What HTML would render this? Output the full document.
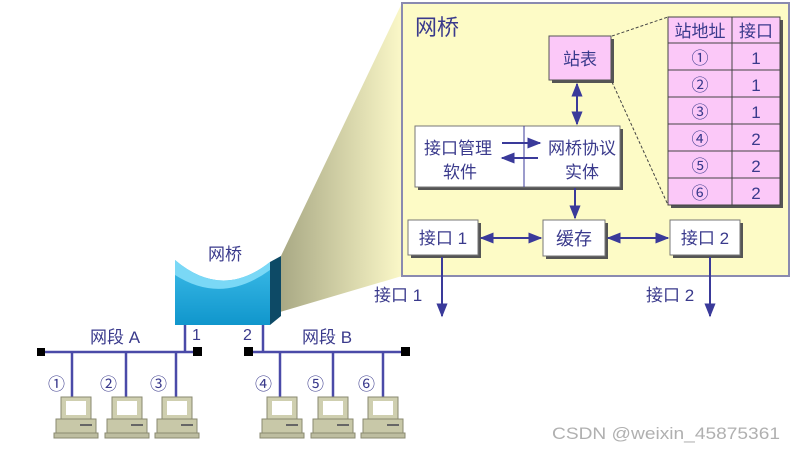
<!DOCTYPE html>
<html><head><meta charset="utf-8"><style>
body{margin:0;width:799px;height:451px;background:#fff;overflow:hidden;font-family:"Liberation Sans","Noto Sans CJK SC",sans-serif}
svg text{font-family:"Liberation Sans","Noto Sans CJK SC",sans-serif;fill:#3a3a8c}
</style></head><body>
<svg width="799" height="451" viewBox="0 0 799 451">
<defs>
<linearGradient id="fn" x1="0" y1="0" x2="1" y2="0">
<stop offset="0" stop-color="#a8a884"/><stop offset="1" stop-color="#fbf8c8"/></linearGradient>
<linearGradient id="br" x1="0" y1="0" x2="0" y2="1">
<stop offset="0" stop-color="#3cbbe8"/><stop offset="1" stop-color="#1096cc"/></linearGradient>
<marker id="a" viewBox="0 0 10 10" refX="9" refY="5" markerWidth="7" markerHeight="7" orient="auto-start-reverse"><path d="M0,1 L10,5 L0,9 z" fill="#3a3a9a"/></marker>
<g id="pc">
<rect x="5" y="0" width="30" height="22" fill="#cfcfb0" stroke="#8a8a70"/>
<rect x="10" y="4" width="20" height="14" fill="#fff"/>
<rect x="0" y="22" width="40" height="14" fill="#c8c8a8" stroke="#8a8a70"/>
<rect x="24" y="27" width="12" height="2" fill="#666"/>
<rect x="-2" y="36" width="44" height="5" fill="#bdbda0" stroke="#8a8a70"/>
</g>
</defs>
<polygon points="280,258 402,3 402,276 280,312" fill="url(#fn)"/>
<rect x="402" y="3" width="387" height="273" fill="#fdfbc6" stroke="#8a8ab0" stroke-width="2"/>
<text x="415" y="35" font-size="22">网桥</text>
<rect x="552" y="39" width="62" height="44" fill="#555"/>
<rect x="549" y="36" width="62" height="44" fill="#fbc8f8" stroke="#555"/>
<text x="580" y="65" font-size="17" text-anchor="middle">站表</text>
<line x1="612" y1="36" x2="668" y2="17" stroke="#444" stroke-dasharray="3,2"/>
<line x1="612" y1="82" x2="668" y2="205" stroke="#444" stroke-dasharray="3,2"/>
<rect x="671" y="20" width="112" height="188" fill="#555"/>
<rect x="668" y="17" width="112" height="188" fill="#fbc8f8" stroke="#444"/>
<g stroke="#444"><line x1="732" y1="17" x2="732" y2="205"/>
<line x1="668" y1="43" x2="780" y2="43"/><line x1="668" y1="70" x2="780" y2="70"/><line x1="668" y1="97" x2="780" y2="97"/><line x1="668" y1="124" x2="780" y2="124"/><line x1="668" y1="151" x2="780" y2="151"/><line x1="668" y1="178" x2="780" y2="178"/></g>
<g font-size="17" text-anchor="middle">
<text x="700" y="37">站地址</text><text x="756" y="37">接口</text>
<text x="700" y="64">①</text><text x="756" y="64">1</text>
<text x="700" y="91">②</text><text x="756" y="91">1</text>
<text x="700" y="118">③</text><text x="756" y="118">1</text>
<text x="700" y="145">④</text><text x="756" y="145">2</text>
<text x="700" y="172">⑤</text><text x="756" y="172">2</text>
<text x="700" y="199">⑥</text><text x="756" y="199">2</text>
</g>
<rect x="418" y="129" width="205" height="61" fill="#555"/>
<rect x="415" y="126" width="205" height="61" fill="#fff" stroke="#777"/>
<line x1="524" y1="126" x2="524" y2="187" stroke="#3a3a9a"/>
<g font-size="17" text-anchor="middle"><text x="458" y="154">接口管理</text><text x="460" y="178">软件</text>
<text x="582" y="154">网桥协议</text><text x="582" y="178">实体</text></g>
<line x1="502" y1="143" x2="540" y2="143" stroke="#3a3a9a" stroke-width="2" marker-end="url(#a)"/>
<line x1="538" y1="158" x2="502" y2="158" stroke="#3a3a9a" stroke-width="2" marker-end="url(#a)"/>
<rect x="411" y="223" width="70" height="35" fill="#555"/>
<rect x="408" y="220" width="70" height="35" fill="#fff" stroke="#777"/>
<text x="443" y="244" font-size="17" text-anchor="middle">接口 1</text>
<rect x="546" y="223" width="62" height="36" fill="#555"/>
<rect x="543" y="220" width="62" height="36" fill="#fff" stroke="#777"/>
<text x="574" y="245" font-size="18" text-anchor="middle">缓存</text>
<rect x="673" y="223" width="70" height="35" fill="#555"/>
<rect x="670" y="220" width="70" height="35" fill="#fff" stroke="#777"/>
<text x="705" y="244" font-size="17" text-anchor="middle">接口 2</text>
<g stroke="#3a3a9a" stroke-width="2" fill="none">
<line x1="577" y1="84" x2="577" y2="124" marker-start="url(#a)" marker-end="url(#a)"/>
<line x1="575" y1="188" x2="575" y2="218" marker-end="url(#a)"/>
<line x1="481" y1="238" x2="541" y2="238" marker-start="url(#a)" marker-end="url(#a)"/>
<line x1="608" y1="238" x2="668" y2="238" marker-start="url(#a)" marker-end="url(#a)"/>
<line x1="442" y1="257" x2="442" y2="316" marker-end="url(#a)"/>
<line x1="710" y1="257" x2="710" y2="316" marker-end="url(#a)"/>
</g>
<text x="374" y="301" font-size="17">接口 1</text>
<text x="646" y="301" font-size="17">接口 2</text>
<path d="M175,260 Q222,300 270,262 L270,325 L175,325 Z" fill="url(#br)"/>
<path d="M175,260 Q222,300 270,262 L270,270 Q222,305 175,275 Z" fill="#7ad8f6"/>
<polygon points="270,262 281,256 281,316 270,325" fill="#0d4a66"/>
<text x="208" y="260" font-size="17">网桥</text>
<g stroke="#4a4aa8" stroke-width="2.5">
<line x1="40" y1="352" x2="197" y2="352"/><line x1="185" y1="325" x2="185" y2="352"/>
<line x1="72" y1="352" x2="72" y2="397"/><line x1="126" y1="352" x2="126" y2="397"/><line x1="176" y1="352" x2="176" y2="397"/>
<line x1="247" y1="352" x2="405" y2="352"/><line x1="263" y1="325" x2="263" y2="352"/>
<line x1="280" y1="352" x2="280" y2="397"/><line x1="333" y1="352" x2="333" y2="397"/><line x1="383" y1="352" x2="383" y2="397"/>
</g>
<rect x="37" y="348" width="8" height="8" fill="#000"/><rect x="193" y="347" width="9" height="9" fill="#000"/>
<rect x="244" y="347" width="9" height="9" fill="#000"/><rect x="401" y="347" width="9" height="9" fill="#000"/>
<text x="90" y="343" font-size="17">网段 A</text>
<text x="302" y="343" font-size="17">网段 B</text>
<text x="192" y="340" font-size="16">1</text>
<text x="243" y="340" font-size="16">2</text>
<g font-size="17"><text x="48" y="390">①</text><text x="100" y="390">②</text><text x="150" y="390">③</text>
<text x="255" y="390">④</text><text x="307" y="390">⑤</text><text x="358" y="390">⑥</text></g>
<use href="#pc" x="56" y="397"/><use href="#pc" x="107" y="397"/><use href="#pc" x="157" y="397"/>
<use href="#pc" x="262" y="397"/><use href="#pc" x="313" y="397"/><use href="#pc" x="363" y="397"/>
<text x="552" y="439" font-size="17" textLength="228" lengthAdjust="spacingAndGlyphs" style="fill:#b0b0b0">CSDN @weixin_45875361</text>
</svg>
</body></html>
